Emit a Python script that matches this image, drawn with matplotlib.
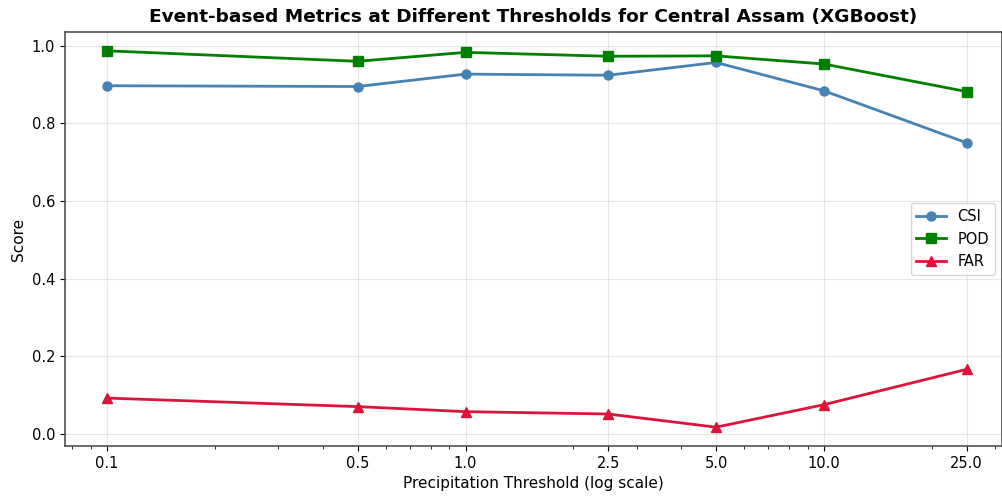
import matplotlib
matplotlib.use("Agg")
import matplotlib.pyplot as plt

thresholds = [0.1, 0.5, 1.0, 2.5, 5.0, 10.0, 25.0]
tick_labels = ["0.1", "0.5", "1.0", "2.5", "5.0", "10.0", "25.0"]
csi = [0.897, 0.895, 0.927, 0.924, 0.957, 0.884, 0.750]
pod = [0.987, 0.960, 0.983, 0.973, 0.974, 0.953, 0.882]
far = [0.092, 0.070, 0.057, 0.051, 0.017, 0.075, 0.166]

fig = plt.figure(figsize=(10.03, 4.98), dpi=100)
ax = fig.add_axes([65 / 1003, 1 - 446 / 498, 937 / 1003, 414 / 498])

ax.plot(thresholds, csi, marker="o", color="#4682B4", linewidth=2, markersize=6.5, label="CSI")
ax.plot(thresholds, pod, marker="s", color="#008000", linewidth=2, markersize=6.5, label="POD")
ax.plot(thresholds, far, marker="^", color="#DC143C", linewidth=2, markersize=6.5, label="FAR")

ax.set_xscale("log")
ax.set_xticks(thresholds)
ax.set_xticklabels(tick_labels)
ax.set_xlim(0.0763, 31.4)
ax.tick_params(labelsize=10.5)

ax.set_xlabel("Precipitation Threshold (log scale)", fontsize=11)
ax.set_ylabel("Score", fontsize=11)
ax.set_title("Event-based Metrics at Different Thresholds for Central Assam (XGBoost)",
             fontsize=13.3, fontweight="bold", pad=7)
ax.grid(True, alpha=0.3)
ax.legend(loc="center right", fontsize=10.5)
for s in ax.spines.values():
    s.set_color("#444444")
    s.set_linewidth(1.1)

fig.savefig("out.png", dpi=100)
